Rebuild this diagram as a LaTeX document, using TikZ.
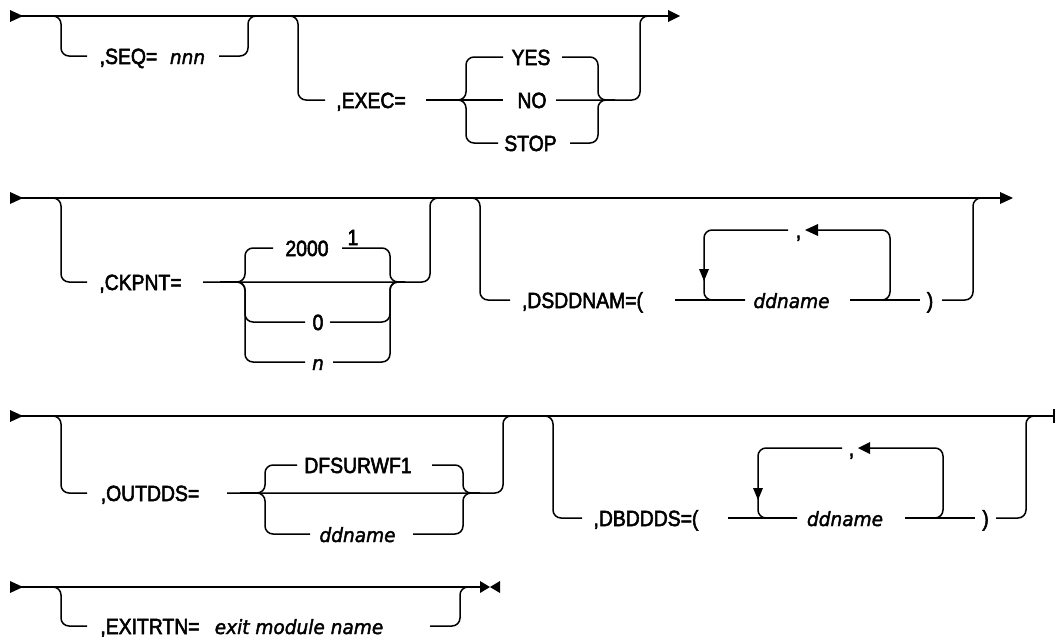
\documentclass[tikz,border=0pt]{standalone}
\usepackage{fontspec}
\setmainfont{Liberation Sans}
\newfontfamily\uf{Liberation Sans}[FakeStretch=0.88, FakeBold=2.5]
\newfontfamily\itf{DejaVu Sans}[FakeStretch=0.95, FakeBold=2.0]
\begin{document}
\begin{tikzpicture}[x=1pt,y=-1pt,
  ln/.style={line width=1.5pt},
  rl/.style={line width=1.5pt, rounded corners=8pt},
  tx/.style={anchor=base, inner sep=0pt, font=\uf\fontsize{22}{25}\selectfont},
  itx/.style={anchor=base, inner sep=0pt, font=\itf\itshape\fontsize{19.5}{23}\selectfont},
  tipfill/.style={fill=black, draw=none}]
\useasboundingbox (0,0) rectangle (1055,637);

% ---------------- Row 1 ----------------
\fill[tipfill] (10,10) -- (23,16) -- (10,22) -- cycle;
\draw[ln] (20,16) -- (668,16);
\fill[tipfill] (668,10) -- (680,16) -- (668,22) -- cycle;
% SEQ
\draw[rl] (40,16) -- (61,16) -- (61,56) -- (87,56);
\node[tx] (seq) at (128.5,64) {,SEQ=};
\node[itx] (nnn) at (187.5,64) {nnn};
\draw[rl] (219,56) -- (248,56) -- (248,16) -- (270,16);
% EXEC
\draw[rl] (280,16) -- (298,16) -- (298,100) -- (325,100);
\node[tx] (exec) at (371,108) {,EXEC=};
\draw[ln] (426,100) -- (503,100);
\draw[rl] (440,100) -- (466,100) -- (466,57) -- (503,57);
\draw[rl] (440,100) -- (466,100) -- (466,143) -- (498,143);
\node[tx] (yes) at (531,65) {YES};
\node[tx] (no) at (532,108) {NO};
\node[tx] (stop) at (530.5,151) {STOP};
\draw[rl] (562,57) -- (598,57) -- (598,100) -- (615,100);
\draw[rl] (570,143) -- (598,143) -- (598,100) -- (615,100);
\draw[rl] (556,100) -- (640,100) -- (640,16) -- (660,16);

% ---------------- Row 2 ----------------
\fill[tipfill] (10,192) -- (23,198) -- (10,204) -- cycle;
\draw[ln] (20,198) -- (1000,198);
\fill[tipfill] (1000,192) -- (1013,198) -- (1000,204) -- cycle;
% CKPNT
\draw[rl] (40,198) -- (61,198) -- (61,282) -- (87,282);
\node[tx] (ck) at (140.5,290) {,CKPNT=};
\draw[rl] (203,282) -- (430,282) -- (430,198) -- (450,198);
\draw[rl] (220,282) -- (245,282) -- (245,248) -- (273,248);
\draw[rl] (220,282) -- (245,282) -- (245,322) -- (305,322);
\draw[rl] (220,282) -- (245,282) -- (245,362) -- (305,362);
\node[tx] (d2000) at (307,256) {2000};
\node[tx] (fn) at (353,245) {1};
\node[tx] (zero) at (318,330) {0};
\node[itx] (nn) at (318,370) {n};
\draw[rl] (342,248) -- (390,248) -- (390,282) -- (405,282);
\draw[rl] (330,322) -- (390,322) -- (390,282) -- (405,282);
\draw[rl] (333,362) -- (390,362) -- (390,282) -- (405,282);
% DSDDNAM
\draw[rl] (460,198) -- (480,198) -- (480,300) -- (510,300);
\node[tx] (dsd) at (582.5,308) {,DSDDNAM=(};
\draw[ln] (675,300) -- (745,300);
\draw[rl] (745,300) -- (704,300) -- (704,230) -- (788,230);
\fill[tipfill] (699,269) -- (709,269) -- (704,281) -- cycle;
\node[tx] (c1) at (798.5,238) {,};
\fill[tipfill] (818,224) -- (818,236) -- (805,230) -- cycle;
\draw[rl] (818,230) -- (890,230) -- (890,300) -- (865,300);
\node[itx] (dd1) at (791.5,308) {ddname};
\draw[ln] (850,300) -- (920,300);
\node[tx] (rp1) at (930,308) {)};
\draw[rl] (942,300) -- (973,300) -- (973,198) -- (990,198);

% ---------------- Row 3 ----------------
\fill[tipfill] (10,410) -- (23,416) -- (10,422) -- cycle;
\draw[ln] (20,416) -- (1053,416);
\draw[line width=2pt] (1054,409) -- (1054,423);
% OUTDDS
\draw[rl] (40,416) -- (61,416) -- (61,493) -- (87,493);
\node[tx] (out) at (150,501) {,OUTDDS=};
\draw[rl] (227,493) -- (503,493) -- (503,416) -- (520,416);
\draw[rl] (240,493) -- (265,493) -- (265,465) -- (297,465);
\draw[rl] (240,493) -- (265,493) -- (265,534) -- (310,534);
\node[tx] (dfs) at (358,473) {DFSURWF1};
\node[itx] (dd2) at (357.5,542) {ddname};
\draw[rl] (432,465) -- (463,465) -- (463,493) -- (480,493);
\draw[rl] (413,534) -- (463,534) -- (463,493) -- (480,493);
% DBDDDS
\draw[rl] (530,416) -- (553,416) -- (553,518) -- (582,518);
\node[tx] (dbd) at (646,526) {,DBDDDS=(};
\draw[ln] (728,518) -- (797,518);
\draw[rl] (797,518) -- (758,518) -- (758,448) -- (842,448);
\fill[tipfill] (753,488) -- (763,488) -- (758,500) -- cycle;
\node[tx] (c2) at (851.5,456) {,};
\fill[tipfill] (870,442) -- (870,454) -- (858,448) -- cycle;
\draw[rl] (870,448) -- (943,448) -- (943,518) -- (920,518);
\node[itx] (dd3) at (845,526) {ddname};
\draw[ln] (905,518) -- (975,518);
\node[tx] (rp2) at (985.5,526) {)};
\draw[rl] (996,518) -- (1026,518) -- (1026,416) -- (1045,416);

% ---------------- Row 4 ----------------
\fill[tipfill] (10,581) -- (23,587) -- (10,593) -- cycle;
\draw[ln] (20,587) -- (481,587);
\fill[tipfill] (480,581) -- (490,587) -- (480,593) -- cycle;
\fill[tipfill] (500,581) -- (490,587) -- (500,593) -- cycle;
\draw[rl] (40,587) -- (61,587) -- (61,626) -- (87,626);
\node[tx] (exit) at (150,634) {,EXITRTN=};
\node[itx] (emn) at (299,634) {exit module name};
\draw[rl] (430,626) -- (460,626) -- (460,587) -- (475,587);
\end{tikzpicture}
\end{document}
